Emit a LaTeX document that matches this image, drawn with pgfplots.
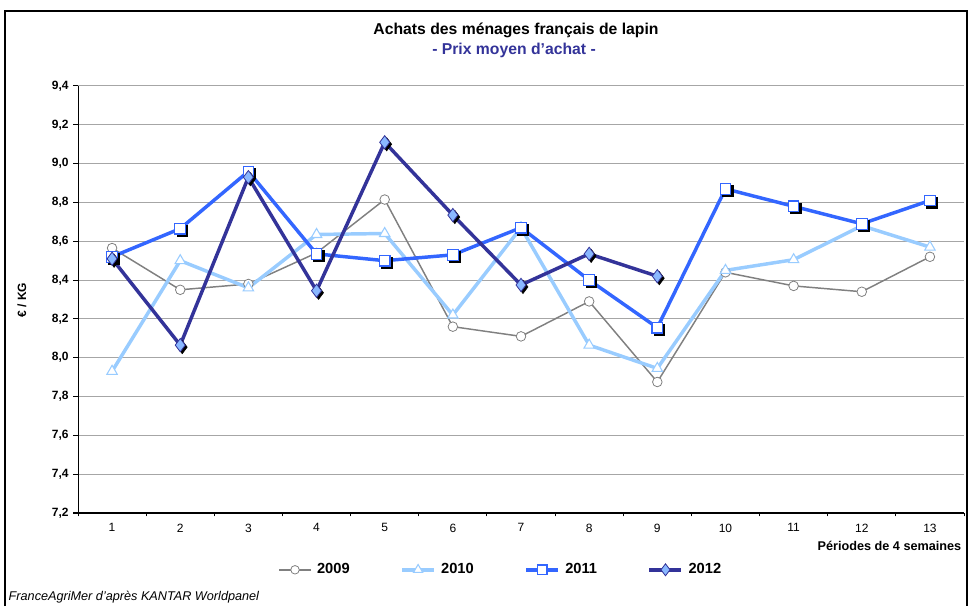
\documentclass[border=0pt]{standalone}
\usepackage{pgfplots}
\usepackage{pgfplotstable}
\pgfplotsset{compat=1.18}
\usepackage{fontspec}
\setmainfont{Liberation Sans}
\definecolor{c09}{HTML}{808080}
\definecolor{c10}{HTML}{99CCFF}
\definecolor{c11}{HTML}{3366FF}
\definecolor{c12}{HTML}{333399}
\definecolor{c12f}{HTML}{8AB8FF}
\definecolor{gridc}{HTML}{A6A6A6}

\pgfplotstableread{
x y
1 8.565
2 8.35
3 8.38
4 8.54
5 8.815
6 8.16
7 8.11
8 8.29
9 7.875
10 8.44
11 8.37
12 8.34
13 8.52
}\dnine
\pgfplotstableread{
x y
1 7.93
2 8.50
3 8.36
4 8.635
5 8.64
6 8.22
7 8.67
8 8.065
9 7.945
10 8.45
11 8.505
12 8.68
13 8.57
}\dten
\pgfplotstableread{
x y
1 8.52
2 8.665
3 8.96
4 8.535
5 8.50
6 8.53
7 8.67
8 8.40
9 8.155
10 8.87
11 8.78
12 8.69
13 8.81
}\deleven
\pgfplotstableread{
x y
1 8.51
2 8.065
3 8.93
4 8.345
5 9.11
6 8.735
7 8.375
8 8.535
9 8.42
}\dtwelve

\begin{document}
\begin{tikzpicture}
\path[use as bounding box] (0,0) rectangle (726.75pt,454.5pt);
\draw[line width=1.2pt] (3.75pt,0) -- (3.75pt,446.25pt) -- (725.25pt,446.25pt) -- (725.25pt,0);
\node[font=\bfseries\fontsize{11.8}{13}\selectfont] at (387pt,432pt) {Achats des ménages français de lapin};
\node[font=\bfseries\fontsize{11.8}{13}\selectfont, text=c12] at (385.5pt,417pt) {- Prix moyen d'achat -};
\node[font=\bfseries\fontsize{9}{10}\selectfont, rotate=90] at (16.5pt,229.5pt) {€ / KG};
\node[font=\bfseries\fontsize{9.5}{11}\selectfont, anchor=east] at (724.5pt,45pt) {Périodes de 4 semaines};
\node[font=\itshape\fontsize{9.5}{11}\selectfont, anchor=west] at (3pt,6.5pt) {FranceAgriMer d'après KANTAR Worldpanel};
\begin{axis}[
  at={(58.5pt,69.75pt)}, anchor=south west, scale only axis,
  width=664.5pt, height=320.25pt,
  xmin=0.5, xmax=13.5, ymin=7.2, ymax=9.4,
  axis x line*=bottom, axis y line*=left,
  axis line style={black, line width=0.75pt},
  xtick={1,2,3,4,5,6,7,8,9,10,11,12,13},
  minor xtick={0.5,1.5,2.5,3.5,4.5,5.5,6.5,7.5,8.5,9.5,10.5,11.5,12.5,13.5},
  ytick={7.2,7.4,7.6,7.8,8.0,8.2,8.4,8.6,8.8,9.0,9.2,9.4},
  tick align=outside,
  major tick length=3.5pt, minor tick length=2.5pt,
  every major x tick/.style={draw=none},
  every minor x tick/.style={black, line width=0.75pt},
  every major y tick/.style={black, line width=0.75pt},
  ymajorgrids, grid style={gridc, line width=0.75pt},
  /pgf/number format/assume math mode=true,
  yticklabel style={font=\bfseries\fontsize{9}{10}\selectfont, /pgf/number format/.cd, use comma, fixed, fixed zerofill, precision=1, assume math mode=true},
  xticklabel style={font=\fontsize{9}{10}\selectfont, yshift=-1pt},
  clip=false,
  legend image code/.code={\draw[mark repeat=2,mark phase=2] plot coordinates {(0pt,0pt) (12pt,0pt) (24pt,0pt)};},
  legend style={at={(0.4775,-0.133)}, anchor=center, draw=none, fill=none,
    legend columns=4, font=\bfseries\fontsize{11}{12}\selectfont,
    /tikz/every odd column/.append style={column sep=2pt},
    /tikz/every even column/.append style={column sep=36pt}},
]
% 2009
\addplot[c09, line width=1.1pt, forget plot] table[x=x,y=y]{\dnine};
\addplot[only marks, mark=*, mark size=3.6pt, mark options={draw=c09, fill=white, line width=0.6pt}, forget plot] table[x=x,y=y]{\dnine};
% 2010
\addplot[c10, line width=2.6pt, forget plot] table[x=x,y=y]{\dten};
\addplot[only marks, mark=triangle*, mark size=4.5pt, mark options={draw=c10, fill=white, line width=0.8pt}, forget plot] table[x=x,y=y]{\dten};
% 2011
\addplot[c11, line width=2.6pt, forget plot] table[x=x,y=y]{\deleven};
\addplot[only marks, mark=square*, mark size=4pt, mark options={draw=black, fill=black, xshift=1.5pt, yshift=-1.5pt}, forget plot] table[x=x,y=y]{\deleven};
\addplot[only marks, mark=square*, mark size=4pt, mark options={draw=c11, fill=white, line width=0.8pt}, forget plot] table[x=x,y=y]{\deleven};
% 2012
\addplot[c12, line width=2.6pt, forget plot] table[x=x,y=y]{\dtwelve};
\addplot[only marks, mark=diamond*, mark size=5pt, mark options={draw=black, fill=black, xshift=1.5pt, yshift=-1.5pt}, forget plot] table[x=x,y=y]{\dtwelve};
\addplot[only marks, mark=diamond*, mark size=5pt, mark options={draw=c12, fill=c12f, line width=0.6pt}, forget plot] table[x=x,y=y]{\dtwelve};
% legend
\addlegendimage{c09, line width=1.1pt, mark=*, mark size=3.2pt, mark options={draw=c09, fill=white, line width=0.6pt}}
\addlegendentry{2009}
\addlegendimage{c10, line width=2.6pt, mark=triangle*, mark size=4pt, mark options={draw=c10, fill=white, line width=0.8pt}}
\addlegendentry{2010}
\addlegendimage{c11, line width=2.6pt, mark=square*, mark size=3.6pt, mark options={draw=c11, fill=white, line width=0.8pt}}
\addlegendentry{2011}
\addlegendimage{c12, line width=2.6pt, mark=diamond*, mark size=4.5pt, mark options={draw=c12, fill=c12f, line width=0.6pt}}
\addlegendentry{2012}
\end{axis}
\end{tikzpicture}
\end{document}
